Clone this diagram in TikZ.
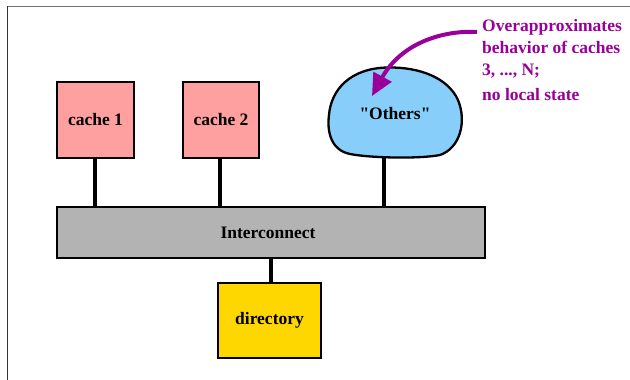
\documentclass[tikz,border=0pt]{standalone}
\usepackage{fontspec}
\setmainfont{Liberation Serif}[Ligatures=TeXOff]
\usetikzlibrary{arrows.meta}
\definecolor{cachepink}{RGB}{255,160,160}
\definecolor{busgray}{RGB}{179,179,179}
\definecolor{dirgold}{RGB}{255,215,0}
\definecolor{blobblue}{RGB}{135,206,250}
\definecolor{notepurple}{RGB}{153,0,153}
\tikzset{
  unit/.style={draw=black, line width=2pt, inner sep=0pt, font=\fontsize{17.5}{21}\selectfont\bfseries},
  link/.style={draw=black, line width=4pt},
  note/.style={anchor=base west, inner sep=0pt, text=notepurple, font=\fontsize{17.5}{21}\selectfont\bfseries},
}
\begin{document}
\begin{tikzpicture}[x=1pt, y=-1pt]
  \useasboundingbox (0,0) rectangle (630,380);
  % frame edges
  \draw[line width=1.5pt, draw={rgb,255:red,112;green,112;blue,112}] (7,6.5) -- (630,6.5);
  \draw[line width=1.5pt, draw={rgb,255:red,50;green,50;blue,50}] (7.5,6) -- (7.5,380);

  % caches
  \node[unit, fill=cachepink, minimum width=77pt, minimum height=76pt] (c1) at (95.5,120) {cache 1};
  \node[unit, fill=cachepink, minimum width=76pt, minimum height=76pt] (c2) at (221,120) {cache 2};

  % the "Others" blob
  \draw[line width=2.3pt, fill=blobblue]
    (388,67.5) .. controls (420,67) and (448,78) .. (458,100)
    .. controls (467,122) and (460,148) .. (440,155)
    .. controls (420,159) and (370,158) .. (350,154)
    .. controls (330,150) and (327,130) .. (329,115)
    .. controls (331,90) and (350,68) .. (388,67.5) -- cycle;
  \node[unit, draw=none, fill=none] (oth) at (395,114) {"Others"};
  \coordinate (othbot) at (384,157);

  % interconnect and directory
  \node[unit, fill=busgray, minimum width=428pt, minimum height=51pt] (ic) at (271,232.5) {\hspace*{-6pt}Interconnect};
  \node[unit, fill=dirgold, minimum width=103pt, minimum height=75pt] (dir) at (269.5,320.5) {directory};

  % links
  \draw[link] (95,159) -- (95,206);
  \draw[link] (220,159) -- (220,206);
  \draw[link] (othbot) -- (othbot |- ic.north);
  \draw[link] (ic.south -| 271,0) -- (dir.north -| 271,0);

  % annotation
  \node[note] (n1) at (482,31) {Overapproximates};
  \node[note] (n2) at (482,53) {behavior of caches};
  \node[note] (n3) at (482,75) {3, ..., N;};
  \node[note] (n4) at (482,100) {no local state};
  \coordinate (tip) at (372,96);
  \draw[notepurple, line width=4pt, -{Triangle[length=22pt, width=20pt]}]
    (477,32) .. controls (440,30) and (400,45) .. (tip);
\end{tikzpicture}
\end{document}
